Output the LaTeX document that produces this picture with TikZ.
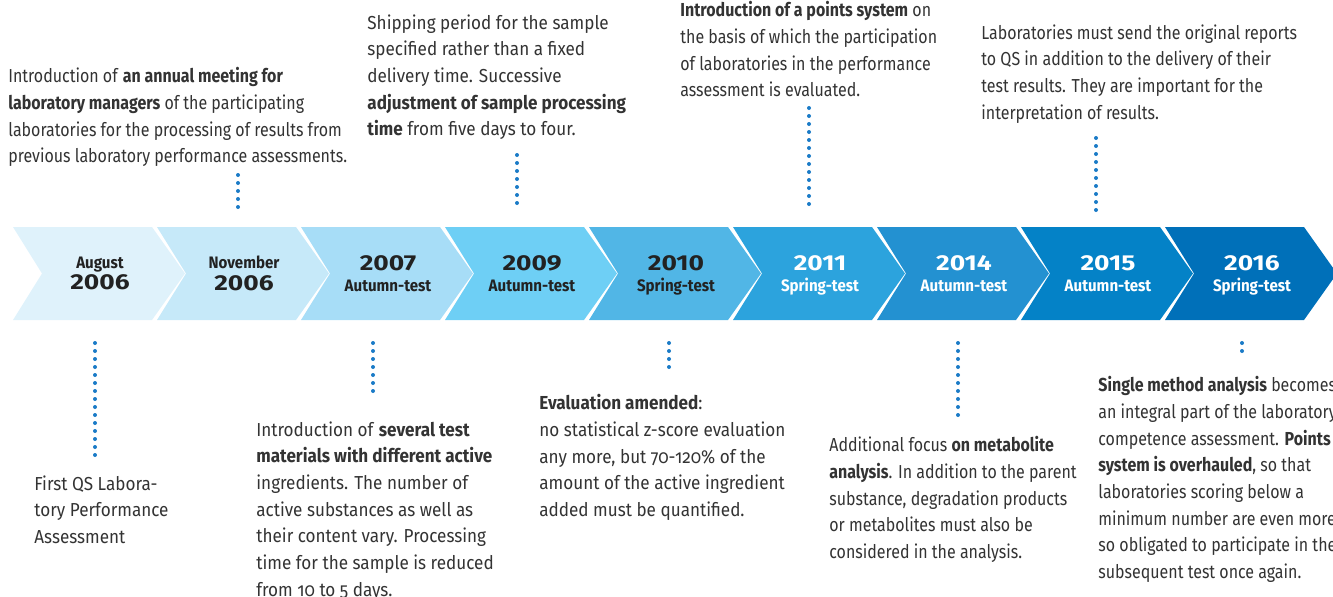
\documentclass[tikz,border=0pt]{standalone}
\usepackage{fontspec}
\setmainfont[FakeStretch=0.85]{Fira Sans}
\newfontfamily\widefont[FakeStretch=0.91]{Fira Sans}
\newfontfamily\yearfont[FakeStretch=1.22]{Fira Sans}
\usetikzlibrary{positioning}

\definecolor{chevA}{HTML}{DFF2FB}
\definecolor{chevB}{HTML}{C6E9F9}
\definecolor{chevC}{HTML}{A7DDF7}
\definecolor{chevD}{HTML}{6ECFF5}
\definecolor{chevE}{HTML}{51B6E6}
\definecolor{chevF}{HTML}{2CA3DD}
\definecolor{chevG}{HTML}{2391D1}
\definecolor{chevH}{HTML}{0482C7}
\definecolor{chevI}{HTML}{0070B9}
\definecolor{dotblue}{HTML}{1A7BC7}
\definecolor{txtgray}{HTML}{333333}
\definecolor{txtdark}{HTML}{222222}

\newcommand{\yrtxt}[1]{{\yearfont\bfseries\fontsize{10.8}{10.8}\selectfont\vphantom{0g}#1}}
\newcommand{\testtxt}[1]{{\widefont\bfseries\fontsize{8.3}{8.3}\selectfont\vphantom{Ag}#1}}
\newcommand{\osf}[1]{{\addfontfeature{Numbers=OldStyle}#1}}

\tikzset{
  note/.style={anchor=north west, align=left, inner sep=0pt, text=txtgray,
    font=\fontsize{9.4}{13.35}\selectfont},
  widenote/.style={note, font=\widefont\fontsize{9.4}{13.35}\selectfont},
  chevlabel/.style={align=center, inner sep=0pt, font=\fontsize{8}{10.7}\selectfont},
  dotline/.style={dotblue, line width=2pt, line cap=round, dash pattern=on 0pt off 4pt}
}

\begin{document}
\begin{tikzpicture}[x=0.5pt, y=-0.5pt]

\clip (0,0) rectangle (1333,596);

% timeline chevrons
\foreach \col/\tc/\first/\second [count=\i from 0] in {
    chevA/txtdark/\testtxt{August}/\yrtxt{2006},
    chevB/txtdark/\testtxt{November}/\yrtxt{2006},
    chevC/txtdark/\yrtxt{2007}/\testtxt{Autumn-test},
    chevD/txtdark/\yrtxt{2009}/\testtxt{Autumn-test},
    chevE/txtdark/\yrtxt{2010}/\testtxt{Spring-test},
    chevF/white/\yrtxt{2011}/\testtxt{Spring-test},
    chevG/white/\yrtxt{2014}/\testtxt{Autumn-test},
    chevH/white/\yrtxt{2015}/\testtxt{Autumn-test},
    chevI/white/\yrtxt{2016}/\testtxt{Spring-test}}
{
  \pgfmathsetmacro{\x}{13+144*\i}
  \fill[\col] (\x,227) -- ++(139,0) -- ++(33,46.5) -- ++(-33,46.5)
    -- ++(-139,0) -- ++(29,-46.5) -- cycle;
  \node[chevlabel, text=\tc] (c\i) at (\x+87,275.5) {\first\\\second};
}

% notes above the timeline
\node[note] (t1) at (8,67) {Introduction of \textbf{an annual meeting for}\\
  \textbf{laboratory managers} of the participating\\
  laboratories for the processing of results from\\
  previous laboratory performance assessments.};
\node[widenote] (t2) at (367,14) {Shipping period for the sample\\
  specified rather than a fixed\\
  delivery time. Successive\\
  \textbf{adjustment of sample processing}\\
  \textbf{time} from five days to four.};
\node[note] (t3) at (680,1) {\textbf{Introduction of a points system} on\\
  the basis of which the participation\\
  of laboratories in the performance\\
  assessment is evaluated.};
\node[note] (t4) at (981,24) {Laboratories must send the original reports\\
  to QS in addition to the delivery of their\\
  test results. They are important for the\\
  interpretation of results.};

% notes below the timeline
\node[widenote] (b1) at (34,475) {First QS Labora-\\
  tory Performance\\
  Assessment};
\node[widenote] (b2) at (256,421) {Introduction of \textbf{several test}\\
  \textbf{materials with different active}\\
  ingredients. The number of\\
  active substances as well as\\
  their content vary. Processing\\
  time for the sample is reduced\\
  from \osf{10} to \osf{5} days.};
\node[widenote] (b3) at (539,394) {\textbf{Evaluation amended}:\\
  no statistical z-score evaluation\\
  any more, but \osf{70-120}\% of the\\
  amount of the active ingredient\\
  added must be quantified.};
\node[note] (b4) at (829,436) {Additional focus \textbf{on metabolite}\\
  \textbf{analysis}. In addition to the parent\\
  substance, degradation products\\
  or metabolites must also be\\
  considered in the analysis.};
\node[note] (b5) at (1098,376) {\textbf{Single method analysis} becomes\\
  an integral part of the laboratory\\
  competence assessment. \textbf{Points}\\
  \textbf{system is overhauled}, so that\\
  laboratories scoring below a\\
  minimum number are even more\\
  so obligated to participate in the\\
  subsequent test once again.};

% dotted connectors
\coordinate (t1a) at (238,175);  \coordinate (t1b) at (238,210);
\coordinate (t2a) at (517,155);  \coordinate (t2b) at (517,210);
\coordinate (t3a) at (809,108);  \coordinate (t3b) at (809,210);
\coordinate (t4a) at (1096,138); \coordinate (t4b) at (1096,210);
\coordinate (b1a) at (95,343);   \coordinate (b1b) at (95,455);
\coordinate (b2a) at (373,343);  \coordinate (b2b) at (373,397);
\coordinate (b3a) at (669,343);  \coordinate (b3b) at (669,374);
\coordinate (b4a) at (958,343);  \coordinate (b4b) at (958,418);
\coordinate (b5a) at (1242,343); \coordinate (b5b) at (1242,358);

\foreach \n in {t1,t2,t3,t4,b1,b2,b3,b4,b5}
  \draw[dotline] (\n a) -- (\n b);

\end{tikzpicture}
\end{document}
